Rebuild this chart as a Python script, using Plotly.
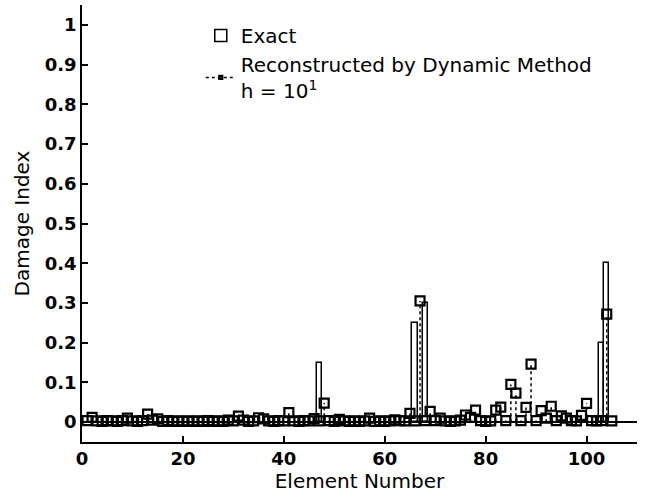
import plotly.graph_objects as go

# ---- data ----
element_numbers = list(range(1, 106))

exact_elements = [47, 66, 68, 103, 104]
exact_values = [0.15, 0.25, 0.30, 0.20, 0.40]

reconstructed_values = [
    0.004, 0.012, 0.003, 0.002, 0.004, 0.003, 0.002, 0.004, 0.010, 0.003,  # 1-10
    0.002, 0.004, 0.020, 0.005, 0.008, 0.002, 0.004, 0.002, 0.003, 0.002,  # 11-20
    0.003, 0.002, 0.003, 0.002, 0.004, 0.002, 0.003, 0.002, 0.005, 0.003,  # 21-30
    0.015, 0.005, 0.002, 0.003, 0.011, 0.008, 0.003, 0.002, 0.004, 0.003,  # 31-40
    0.024, 0.003, 0.002, 0.004, 0.003, 0.009, 0.003, 0.048, 0.004, 0.002,  # 41-50
    0.007, 0.003, 0.002, 0.003, 0.002, 0.003, 0.010, 0.002, 0.003, 0.002,  # 51-60
    0.003, 0.006, 0.004, 0.003, 0.022, 0.003, 0.305, 0.004, 0.027, 0.004,  # 61-70
    0.010, 0.003, 0.002, 0.003, 0.005, 0.018, 0.012, 0.030, 0.004, 0.002,  # 71-80
    0.003, 0.030, 0.038, 0.004, 0.095, 0.073, 0.004, 0.037, 0.146, 0.004,  # 81-90
    0.029, 0.010, 0.040, 0.004, 0.016, 0.010, 0.004, 0.003, 0.017, 0.047,  # 91-100
    0.004, 0.003, 0.004, 0.272, 0.003,                                      # 101-105
]

x_ticks = [0, 20, 40, 60, 80, 100]
y_ticks = [0, 0.1, 0.2, 0.3, 0.4, 0.5, 0.6, 0.7, 0.8, 0.9, 1]
y_tick_labels = ["0", "0.1", "0.2", "0.3", "0.4", "0.5", "0.6", "0.7", "0.8", "0.9", "1"]

# ---- stems built from the data ----
stem_x, stem_y, stem_size = [], [], []
for e, v in zip(element_numbers, reconstructed_values):
    stem_x += [e, e, None]
    stem_y += [0, v, None]
    stem_size += [0, 9, 0]

FONT = "DejaVu Sans"

fig = go.Figure()
fig.add_trace(go.Bar(
    x=exact_elements, y=exact_values, name="Exact",
    width=1.0,
    marker=dict(color="white", line=dict(color="black", width=1.5)),
))
fig.add_trace(go.Scatter(
    x=stem_x, y=stem_y, mode="lines+markers",
    name="Reconstructed by Dynamic Method<br>h = 10<sup>1</sup>",
    line=dict(color="black", width=1.5, dash="dot"),
    marker=dict(symbol="square-open", size=stem_size, color="black", opacity=1,
                line=dict(color="black", width=2.2)),
    connectgaps=False,
))

fig.update_layout(
    width=646, height=494,
    margin=dict(l=82, r=9, t=5, b=52),
    paper_bgcolor="white", plot_bgcolor="white",
    font=dict(family=FONT, color="black", size=18),
    showlegend=True,
    legend=dict(x=0.214, y=0.975, xanchor="left", yanchor="top",
                bgcolor="rgba(0,0,0,0)", font=dict(family=FONT, size=20),
                tracegroupgap=2, itemsizing="trace"),
    bargap=0,
)
fig.update_xaxes(
    range=[0, 110], tickvals=x_ticks, ticktext=[str(t) for t in x_ticks],
    showline=True, linecolor="black", linewidth=1.5, mirror=False,
    ticks="inside", ticklen=6, tickcolor="black", tickwidth=1.5,
    showgrid=False, zeroline=False,
    tickfont=dict(family=FONT, size=18, weight="bold"),
    title=dict(text="Element Number", font=dict(family=FONT, size=20), standoff=0),
)
fig.update_yaxes(
    range=[-0.05, 1.05], tickvals=y_ticks, ticktext=y_tick_labels,
    showline=True, linecolor="black", linewidth=1.5, mirror=False,
    ticks="inside", ticklen=6, tickcolor="black", tickwidth=1.5,
    showgrid=False, zeroline=True, zerolinecolor="black", zerolinewidth=1.5,
    tickfont=dict(family=FONT, size=18, weight="bold"),
    title=dict(text="Damage Index", font=dict(family=FONT, size=20), standoff=10),
)

fig.write_html("out.html", config={"displayModeBar": False},
               post_script="document.body.style.margin='0';")
